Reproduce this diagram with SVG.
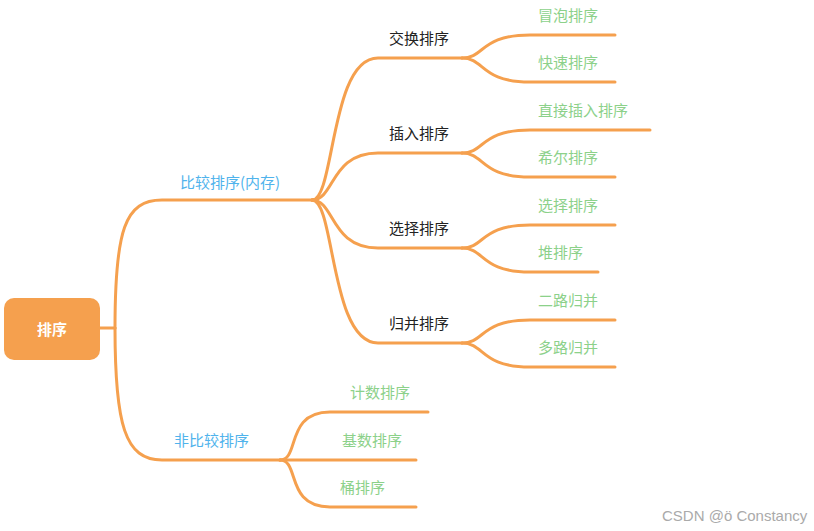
<svg xmlns="http://www.w3.org/2000/svg" width="814" height="531" viewBox="0 0 814 531">
<style>
.c{fill:none;stroke:#F5A04E;stroke-width:3;stroke-linecap:round}
text{font-family:"Noto Sans CJK SC","Noto Sans",sans-serif;font-size:15px}
.b{fill:#4FB3EC}.g{fill:#8CD18A}.k{fill:#222}
</style>
<rect width="814" height="531" fill="#fff"/>
<g id="connectors">
<path class="c" d="M100 328H115"/>
<path class="c" d="M115 328C115 230,125 200,162 200H312"/>
<path class="c" d="M115 328C115 425,125 460,162 460H280"/>
<path class="c" d="M312 200C335 200,330 58,378 58H462"/>
<path class="c" d="M312 200C335 200,330 153,378 153H462"/>
<path class="c" d="M312 200C335 200,330 248,378 248H462"/>
<path class="c" d="M312 200C335 200,330 343,378 343H462"/>
<path class="c" d="M462 58C485 58,480 35,530 35H615"/>
<path class="c" d="M462 58C485 58,480 82,530 82H615"/>
<path class="c" d="M462 153C485 153,480 130,530 130H650"/>
<path class="c" d="M462 153C485 153,480 177,530 177H615"/>
<path class="c" d="M462 248C485 248,480 225,530 225H615"/>
<path class="c" d="M462 248C485 248,480 272,530 272H598"/>
<path class="c" d="M462 343C485 343,480 320,530 320H615"/>
<path class="c" d="M462 343C485 343,480 367,530 367H615"/>
<path class="c" d="M280 460C300 460,285 412,330 412H428"/>
<path class="c" d="M280 460H416"/>
<path class="c" d="M280 460C300 460,285 507,330 507H416"/>
</g>
<g id="root"><rect x="4" y="298" width="96" height="62" rx="10" fill="#F5A04E"/><text x="52" y="335" text-anchor="middle" fill="#fff" font-size="18" font-weight="bold">排序</text></g>
<g id="n1"><text class="b" x="180" y="188">比较排序(内存)</text></g>
<g id="n2"><text class="b" x="174" y="446">非比较排序</text></g>
<g id="n3"><text class="k" x="389" y="44">交换排序</text></g>
<g id="n4"><text class="k" x="389" y="139">插入排序</text></g>
<g id="n5"><text class="k" x="389" y="234">选择排序</text></g>
<g id="n6"><text class="k" x="389" y="329">归并排序</text></g>
<g id="n7"><text class="g" x="538" y="21">冒泡排序</text></g>
<g id="n8"><text class="g" x="538" y="68">快速排序</text></g>
<g id="n9"><text class="g" x="538" y="116">直接插入排序</text></g>
<g id="n10"><text class="g" x="538" y="163">希尔排序</text></g>
<g id="n11"><text class="g" x="538" y="211">选择排序</text></g>
<g id="n12"><text class="g" x="538" y="258">堆排序</text></g>
<g id="n13"><text class="g" x="538" y="306">二路归并</text></g>
<g id="n14"><text class="g" x="538" y="353">多路归并</text></g>
<g id="n15"><text class="g" x="350" y="398">计数排序</text></g>
<g id="n16"><text class="g" x="342" y="446">基数排序</text></g>
<g id="n17"><text class="g" x="340" y="493">桶排序</text></g>
<text x="662" y="521" fill="#aaa" font-size="13" style="font-family:'Liberation Sans',sans-serif">CSDN @ö Constancy</text>
</svg>
